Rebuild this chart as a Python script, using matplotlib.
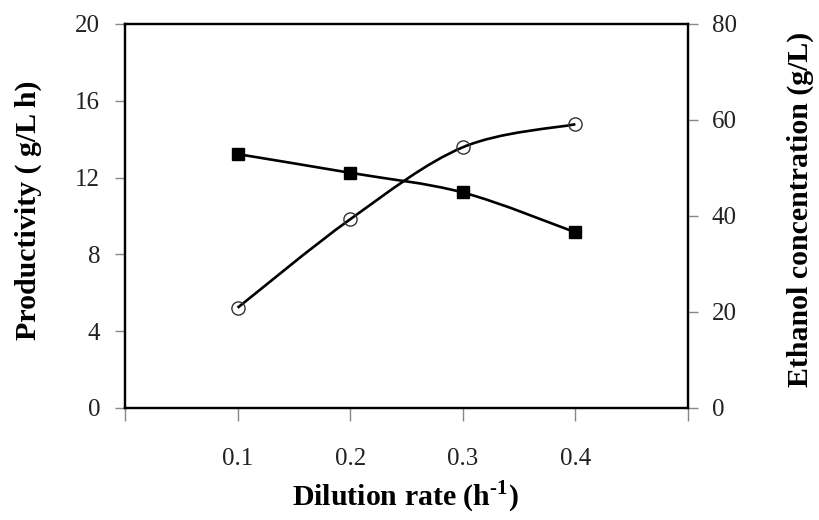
"""Productivity and ethanol concentration vs dilution rate"""
import numpy as np
import matplotlib
matplotlib.use('Agg')
import matplotlib.pyplot as plt
from matplotlib.path import Path
from matplotlib.patches import PathPatch

plt.rcParams['font.family'] = ['Liberation Serif', 'DejaVu Serif']
plt.rcParams['mathtext.fontset'] = 'custom'
plt.rcParams['mathtext.rm'] = 'Liberation Serif:bold'
plt.rcParams['mathtext.bf'] = 'Liberation Serif:bold'

dilution = [0.1, 0.2, 0.3, 0.4]
productivity = [5.22, 9.83, 13.58, 14.78]
ethanol = [52.9, 49.0, 44.9, 36.6]

x_ticks = [0.0, 0.1, 0.2, 0.3, 0.4, 0.5]
x_tick_labels = ['', '0.1', '0.2', '0.3', '0.4', '']
left_ticks = [0, 4, 8, 12, 16, 20]
right_ticks = [0, 20, 40, 60, 80]


def smooth_path(xs, ys):
    """Catmull-Rom style bezier through the points (like Excel smoothed line)"""
    pts = np.column_stack([xs, ys]).astype(float)
    n = len(pts)
    verts = [pts[0]]
    codes = [Path.MOVETO]
    for i in range(n - 1):
        p0 = pts[i - 1] if i > 0 else pts[i]
        p1 = pts[i]
        p2 = pts[i + 1]
        p3 = pts[i + 2] if i + 2 < n else pts[i + 1]
        verts += [p1 + (p2 - p0) / 6, p2 - (p3 - p1) / 6, p2]
        codes += [Path.CURVE4] * 3
    return Path(verts, codes)


fig = plt.figure(figsize=(8.19, 5.2), dpi=100)
ax = fig.add_axes([125 / 819, 112 / 520, 563 / 819, 384 / 520])
ax2 = ax.twinx()

ax.set_xlim(0, 0.5)
ax.set_ylim(0, 20)
ax2.set_ylim(0, 80)

ax.add_patch(PathPatch(smooth_path(dilution, productivity), fill=False,
                       lw=1.9, color='black', zorder=2))
ax.plot(dilution, productivity, ls='none', marker='o', ms=9.5,
        mfc='none', mec='#333333', mew=1.0, zorder=3)

ax2.add_patch(PathPatch(smooth_path(dilution, ethanol), fill=False,
                        lw=1.9, color='black', zorder=2))
ax2.plot(dilution, ethanol, ls='none', marker='s', ms=9,
         mfc='black', mec='black', zorder=3)

ax.set_xticks(x_ticks)
ax.set_xticklabels(x_tick_labels)
ax.set_yticks(left_ticks)
ax2.set_yticks(right_ticks)

for a in (ax, ax2):
    for sp in a.spines.values():
        sp.set_linewidth(1.6)
        sp.set_color('black')
    a.tick_params(direction='out', color='#888888', width=1.0,
                  labelsize=18, labelcolor='#222222')
ax.tick_params(axis='x', length=9, pad=20)
ax.tick_params(axis='y', length=7, pad=11)
ax2.tick_params(axis='y', length=7, pad=10)

ax.set_ylabel('Productivity ( g/L h)', fontsize=21.5, fontweight='bold')
ax2.set_ylabel('Ethanol concentration (g/L)', fontsize=21.5, fontweight='bold')
ax.set_xlabel(r'Dilution rate (h$^{\text{-1}}$)', fontsize=21.5, fontweight='bold')

ax.yaxis.label.set(va='center', ha='center', rotation_mode='anchor')
ax2.yaxis.label.set(va='center', ha='center', rotation_mode='anchor')
ax.xaxis.label.set(va='center', ha='center')
ax.yaxis.set_label_coords((28 - 125) / 563, 0.516)
ax2.yaxis.set_label_coords((800 - 125) / 563, 0.516)
ax.xaxis.set_label_coords((405 - 125) / 563, (408 - 497) / 384)

fig.savefig('out.png', dpi=100)
